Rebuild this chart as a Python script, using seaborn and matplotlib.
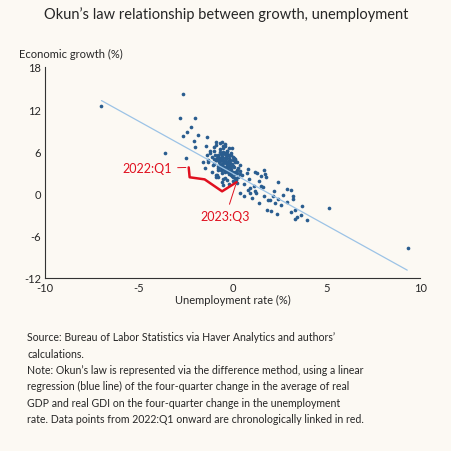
import matplotlib.pyplot as plt
import numpy as np
import pandas as pd
import seaborn as sns

# outliers and tail
unemp_edge = [-7.0, -2.67, -2.83, -2.04, -2.24, -2.65, -2.43, -1.85, -2.06, -2.04, -3.64, -2.52,
              -1.37, -1.42, 5.14, 9.33, 2.42, 2.9, 3.08, 3.2, 3.2, 3.3, 3.7, 3.66, 3.3, 3.96,
              2.38, 2.06, 1.83, 2.58, 2.26, 2.4, 2.15, 1.88, 1.67, 1.42, 1.24, 1.6, 1.5, 1.14,
              0.94, 0.8, 0.94, 0.6, 0.8, 0.78, 1.17, 1.3, 1.69, 1.74, 1.53, 1.76, 0.39, 0.6,
              0.85, 0.41, 0.14, -0.04, 2.9, 3.1, 2.7, 1.2, 1.0, 0.5, 2.0, 3.4, 2.2, 1.4]
growth_edge = [12.4, 14.1, 10.75, 10.7, 9.5, 8.2, 8.7, 8.3, 7.4, 6.6, 5.7, 5.0,
               8.0, 6.7, -2.0, -7.7, 1.6, 0.7, 0.5, -0.4, -0.75, -2.3, -1.8, -3.0, -3.7, -3.8,
               -2.9, -2.5, -2.4, -1.6, -1.3, -0.75, -0.4, -1.0, -0.3, -1.3, 0.0, 0.9, 1.1, 1.1,
               0.8, 0.5, 0.1, 1.4, 3.5, 2.9, 3.1, 2.9, 3.3, 2.8, 2.5, 2.3, 0.05, -0.3,
               2.1, 4.1, 4.9, 6.4, -1.2, -2.6, -0.2, 0.4, -0.6, 2.6, -0.9, -3.3, 0.3, 1.8]

# dense cluster around zero
unemp_core = [-1.3, -1.1, -1.0, -0.9, -0.8, -0.7, -0.6, -0.5, -0.4, -0.3, -0.2, -0.1, 0.0, 0.1, 0.2,
              -1.2, -1.0, -0.9, -0.8, -0.7, -0.6, -0.5, -0.4, -0.3, -0.2, -0.1, 0.0, 0.1, 0.3,
              -1.1, -0.95, -0.85, -0.75, -0.65, -0.55, -0.45, -0.35, -0.25, -0.15, -0.05, 0.05, 0.15,
              -0.9, -0.8, -0.7, -0.6, -0.5, -0.4, -0.3, -0.2, -0.1, 0.0, 0.2, 0.4,
              -1.0, -0.8, -0.6, -0.4, -0.2, 0.0, -0.7, -0.5, -0.3, -0.1, 0.1,
              -0.9, -0.7, -0.5, -0.3, -0.1, 0.1, -1.5, -1.4, -1.6, -0.6, -0.4, -0.2,
              -0.8, -0.6, -0.4, -0.2, 0.0, 0.3, -1.2, -0.9, -0.5, -0.3, 0.2, 0.4,
              -0.7, -0.45, -0.25, -0.05, 0.25, -1.0, -0.6, -0.35, -0.15, 0.1,
              -0.8, -0.55, -0.3, 0.0, -0.65, -0.4, -0.2, 0.15, -1.3, -0.9, -0.5, -0.1,
              -0.75, -0.55, -0.35, -0.15, -0.85, -0.45, -0.25, -0.05, -0.65, -0.3,
              -1.05, -0.5, -0.2, 0.05, -0.7, -0.4, -0.1, -0.6, -0.35, -0.8]
growth_core = [4.5, 5.2, 6.0, 4.8, 5.5, 6.3, 4.0, 5.0, 4.4, 3.8, 4.6, 3.2, 3.9, 2.8, 3.3,
               5.8, 4.2, 7.3, 3.6, 7.1, 4.9, 6.8, 5.6, 6.1, 5.0, 4.1, 4.7, 2.2, 2.4,
               3.0, 5.5, 2.6, 4.6, 3.4, 5.3, 3.6, 4.9, 3.1, 4.3, 2.5, 3.7, 1.9,
               6.9, 3.3, 5.9, 2.9, 6.5, 3.0, 5.4, 2.7, 5.8, 1.8, 4.4, 2.8,
               6.6, 4.9, 4.2, 5.7, 4.6, 5.2, 3.9, 4.3, 4.0, 3.5, 4.8,
               4.7, 5.1, 5.9, 4.5, 5.5, 3.1, 3.6, 5.4, 4.4, 7.3, 7.0, 6.4,
               2.4, 1.6, 2.2, 1.4, 2.3, 3.6, 6.1, 2.3, 1.2, 1.9, 1.5, 3.2,
               4.1, 3.8, 3.4, 4.0, 2.9, 4.9, 3.4, 5.1, 3.7, 4.5,
               5.3, 4.7, 6.0, 3.0, 5.6, 6.7, 4.2, 2.0, 4.8, 2.6, 2.1, 2.6,
               4.4, 4.0, 5.2, 4.7, 5.0, 4.6, 3.8, 4.2, 3.7, 5.6,
               4.0, 5.7, 5.5, 5.1, 4.6, 3.3, 3.0, 5.2, 4.3, 3.9]

# 2022:Q1 onward
unemp_recent = [-2.35, -2.3, -1.5, -0.57, 0.2]
growth_recent = [3.7, 2.3, 2.0, 0.3, 1.6]

# fitted line
fit_x = [-7.0, 9.3]
fit_y = [13.2, -10.9]

bg = "#fcf9f3"
sns.set_theme(style="white")
plt.rcParams["font.family"] = ["Lato", "DejaVu Sans"]
plt.rcParams["axes.unicode_minus"] = False

df = pd.DataFrame({"u": unemp_edge + unemp_core, "g": growth_edge + growth_core})

fig, ax = plt.subplots(figsize=(4.52, 4.52), dpi=100)
fig.patch.set_facecolor(bg)
ax.set_facecolor(bg)
fig.subplots_adjust(left=0.1, right=0.93, top=0.85, bottom=0.383)

sns.lineplot(x=fit_x, y=fit_y, color="#9cc3e6", lw=0.9, ax=ax)
sns.scatterplot(data=df, x="u", y="g", color="#2a5d8f", s=7, linewidth=0, ax=ax)
sns.lineplot(x=unemp_recent, y=growth_recent, color="#e0101f", lw=1.8, sort=False, ax=ax)

ax.annotate("2022:Q1", xy=(-2.35, 3.7), xytext=(-5.9, 3.0), color="#e0101f", fontsize=9,
            arrowprops=dict(arrowstyle="-", color="#e0101f", lw=0.7))
ax.annotate("2023:Q3", xy=(0.2, 1.6), xytext=(-1.7, -3.8), color="#e0101f", fontsize=9,
            arrowprops=dict(arrowstyle="-", color="#e0101f", lw=0.7))

ax.set_xlim(-10, 10)
ax.set_ylim(-12, 18)
ax.set_xticks([-10, -5, 0, 5, 10])
ax.set_yticks([-12, -6, 0, 6, 12, 18])
ax.tick_params(labelsize=8, length=3, direction="in", color="#333333", pad=3)
ax.tick_params(axis="x", bottom=False)
for s in ["top", "right"]:
    ax.spines[s].set_visible(False)
for s in ["left", "bottom"]:
    ax.spines[s].set_color("#333333")
    ax.spines[s].set_linewidth(0.8)
ax.set_xlabel("Unemployment rate (%)", fontsize=8, labelpad=1)
ax.set_ylabel("")
ax.text(-0.07, 1.045, "Economic growth (%)", transform=ax.transAxes, fontsize=8)

fig.text(0.5, 0.958, "Okun\u2019s law relationship between growth, unemployment",
         ha="center", fontsize=10.5)
notes = ("Source: Bureau of Labor Statistics via Haver Analytics and authors\u2019\n"
         "calculations.\n"
         "Note: Okun\u2019s law is represented via the difference method, using a linear\n"
         "regression (blue line) of the four-quarter change in the average of real\n"
         "GDP and real GDI on the four-quarter change in the unemployment\n"
         "rate. Data points from 2022:Q1 onward are chronologically linked in red.")
fig.text(0.06, 0.265, notes, fontsize=7.6, va="top", linespacing=1.6)

fig.savefig("out.png", dpi=100, facecolor=bg)
